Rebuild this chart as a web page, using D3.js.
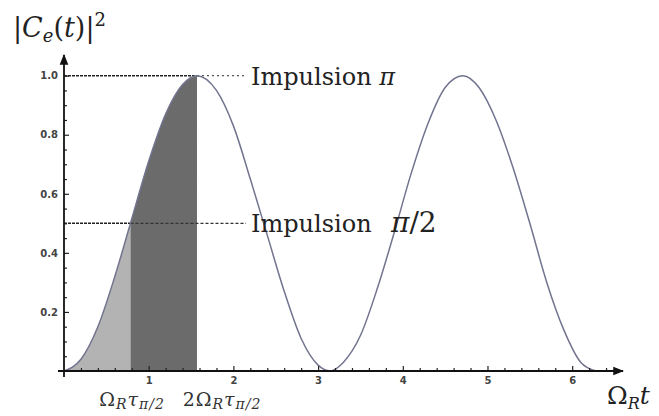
<!DOCTYPE html>
<html>
<head>
<meta charset="utf-8">
<script src="https://cdn.jsdelivr.net/npm/d3@7"></script>
<style>
  body { margin: 0; background: #fff; }
  .tick text { font-family: "DejaVu Sans", sans-serif; font-weight: bold; font-size: 10px; fill: #444; }
  .domain { display: none; }
</style>
</head>
<body>
<div id="chart"></div>
<script>

// values
const tValues = [0, 0.2, 0.4, 0.6, 0.785, 1.0, 1.2, 1.4, 1.57, 1.8, 2.0, 2.2, 2.4, 2.6, 2.8, 3.0, 3.14,
  3.3, 3.5, 3.7, 3.9, 4.1, 4.3, 4.5, 4.71, 4.9, 5.1, 5.3, 5.5, 5.7, 5.9, 6.1, 6.28];
const probValues = [0, 0.04, 0.15, 0.32, 0.5, 0.71, 0.87, 0.97, 1.0, 0.95, 0.83, 0.65, 0.46, 0.27, 0.11, 0.02, 0,
  0.03, 0.12, 0.28, 0.47, 0.67, 0.84, 0.96, 1.0, 0.96, 0.85, 0.69, 0.50, 0.30, 0.14, 0.03, 0];
const xTicks = [1, 2, 3, 4, 5, 6];
const yTicks = [0.2, 0.4, 0.6, 0.8, 1.0];
const halfPulse = 0.785;   // Ω_R τ_{π/2}
const fullPulse = 1.57;    // 2 Ω_R τ_{π/2}

const points = tValues.map((t, i) => ({t: t, p: probValues[i]}));

const width = 659, height = 416;

const svg = d3.select('#chart').append('svg')
  .attr('width', width)
  .attr('height', height);

const x = d3.scaleLinear().domain([0, 6.6]).range([64, 623]);
const y = d3.scaleLinear().domain([0, 1.07]).range([371, 55]);

// shaded areas
const area = d3.area()
  .x(d => x(d.t))
  .y0(y(0))
  .y1(d => y(d.p))
  .curve(d3.curveMonotoneX);

svg.append('path')
  .datum(points.filter(d => d.t <= halfPulse))
  .attr('d', area)
  .attr('fill', '#b3b3b3');

svg.append('path')
  .datum(points.filter(d => d.t >= halfPulse && d.t <= fullPulse))
  .attr('d', area)
  .attr('fill', '#6b6b6b');

// reference lines
svg.append('line')
  .attr('x1', x(0)).attr('x2', x(fullPulse))
  .attr('y1', y(1)).attr('y2', y(1))
  .attr('stroke', '#222').attr('stroke-width', 1.5).attr('stroke-dasharray', '3,1');
svg.append('line')
  .attr('x1', x(fullPulse)).attr('x2', 246)
  .attr('y1', y(1)).attr('y2', y(1))
  .attr('stroke', '#555').attr('stroke-width', 1.4).attr('stroke-dasharray', '2,3');
svg.append('line')
  .attr('x1', x(0)).attr('x2', x(halfPulse))
  .attr('y1', y(0.5)).attr('y2', y(0.5))
  .attr('stroke', '#222').attr('stroke-width', 1.5).attr('stroke-dasharray', '3,1');
svg.append('line')
  .attr('x1', x(halfPulse)).attr('x2', 246)
  .attr('y1', y(0.5)).attr('y2', y(0.5))
  .attr('stroke', '#333').attr('stroke-width', 1.4).attr('stroke-dasharray', '3,2');

// curve
const line = d3.line()
  .x(d => x(d.t))
  .y(d => y(d.p))
  .curve(d3.curveMonotoneX);

svg.append('path')
  .datum(points)
  .attr('d', line)
  .attr('fill', 'none')
  .attr('stroke', '#72748f')
  .attr('stroke-width', 1.5);

// axes
const xAxis = d3.axisBottom(x).tickValues(xTicks).tickSize(-5).tickPadding(6).tickFormat(d3.format('d'));
const xMinor = d3.axisBottom(x).tickValues(d3.range(0.2, 6.5, 0.2).filter(v => Math.abs(v - Math.round(v)) > 0.01))
  .tickSize(-3).tickFormat('');
const yAxis = d3.axisLeft(y).tickValues(yTicks).tickSize(-5).tickPadding(6).tickFormat(d3.format('.1f'));
const yMinor = d3.axisLeft(y).tickValues(d3.range(0.05, 1.01, 0.05).filter(v => Math.abs(v * 5 - Math.round(v * 5)) > 0.01))
  .tickSize(-3).tickFormat('');

[xAxis, xMinor].forEach(a => {
  svg.append('g').attr('transform', 'translate(0,' + y(0) + ')').call(a)
    .selectAll('.tick line').attr('stroke', '#222').attr('stroke-width', 1.2);
});
[yAxis, yMinor].forEach(a => {
  svg.append('g').attr('transform', 'translate(' + x(0) + ',0)').call(a)
    .selectAll('.tick line').attr('stroke', '#222').attr('stroke-width', 1.2);
});

// axis lines with arrows
svg.append('defs').append('marker')
  .attr('id', 'arrow')
  .attr('viewBox', '0 0 10 10')
  .attr('refX', 9).attr('refY', 5)
  .attr('markerWidth', 6).attr('markerHeight', 6)
  .attr('orient', 'auto')
  .append('path').attr('d', 'M0,1 L10,5 L0,9 z').attr('fill', '#111');

svg.append('line')
  .attr('x1', x(0) - 6).attr('x2', x(6.6))
  .attr('y1', y(0)).attr('y2', y(0))
  .attr('stroke', '#111').attr('stroke-width', 1.8)
  .attr('marker-end', 'url(#arrow)');
svg.append('line')
  .attr('x1', x(0)).attr('x2', x(0))
  .attr('y1', y(0) + 6).attr('y2', y(1.07))
  .attr('stroke', '#111').attr('stroke-width', 1.8)
  .attr('marker-end', 'url(#arrow)');

// annotations
const serif = '"DejaVu Serif", serif';

const t1 = svg.append('text').attr('x', 251).attr('y', y(1) + 9)
  .attr('font-family', serif).attr('font-size', 24).attr('fill', '#222');
t1.append('tspan').text('Impulsion ');
t1.append('tspan').attr('font-style', 'italic').text('π');

const t2 = svg.append('text').attr('x', 251).attr('y', y(0.5) + 9)
  .attr('font-family', serif).attr('font-size', 24).attr('fill', '#222');
t2.append('tspan').text('Impulsion');
t2.append('tspan').attr('x', 391).attr('font-size', 28).attr('font-style', 'italic').text('π');
t2.append('tspan').attr('font-size', 28).text('/2');

// y label |C_e(t)|^2
const yl = svg.append('text').attr('x', 13).attr('y', 37)
  .attr('font-family', serif).attr('font-size', 27).attr('fill', '#222');
yl.append('tspan').text('|');
yl.append('tspan').attr('font-style', 'italic').text('C');
yl.append('tspan').attr('font-style', 'italic').attr('font-size', 18).attr('dy', 5).text('e');
yl.append('tspan').attr('dy', -5).text('(');
yl.append('tspan').attr('font-style', 'italic').text('t');
yl.append('tspan').text(')|');
yl.append('tspan').attr('font-size', 18).attr('dy', -11).text('2');

// x label Ω_R t
const xl = svg.append('text').attr('x', 607).attr('y', 404)
  .attr('font-family', serif).attr('font-size', 25).attr('fill', '#222');
xl.append('tspan').text('Ω');
xl.append('tspan').attr('font-style', 'italic').attr('font-size', 16).attr('dy', 5).text('R');
xl.append('tspan').attr('font-style', 'italic').attr('dy', -5).text('t');

// pulse duration labels
function pulseLabel(cx, prefix) {
  const g = svg.append('text').attr('x', cx).attr('y', 406)
    .attr('text-anchor', 'middle').attr('letter-spacing', 1)
    .attr('font-family', serif).attr('font-size', 19).attr('fill', '#333');
  g.append('tspan').text(prefix + 'Ω');
  g.append('tspan').attr('font-style', 'italic').attr('font-size', 14).attr('dy', 3).text('R');
  g.append('tspan').attr('font-style', 'italic').attr('dy', -3).text('τ');
  g.append('tspan').attr('font-style', 'italic').attr('font-size', 14).attr('dy', 3).text('π/2');
}
pulseLabel(132, '');
pulseLabel(222, '2');

</script>
</body>
</html>
